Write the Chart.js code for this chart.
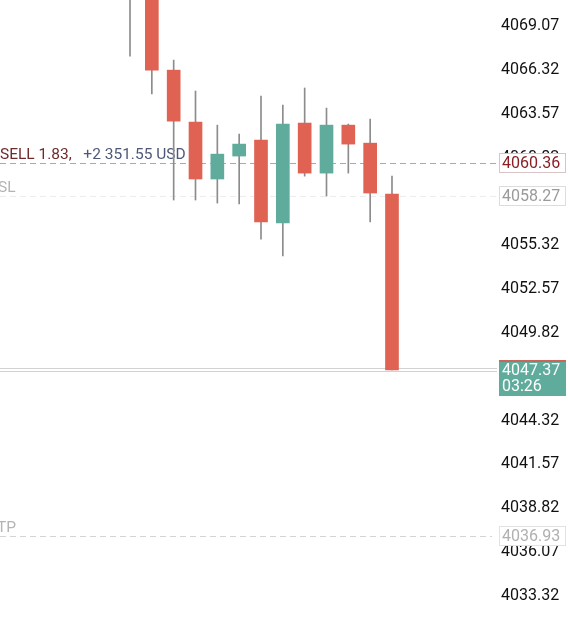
<!DOCTYPE html>
<html>
<head>
<meta charset="utf-8">
<script src="https://cdn.jsdelivr.net/npm/chart.js@4/dist/chart.umd.min.js"></script>
<style>
  html, body { margin: 0; padding: 0; background: #fff; }
  #wrap { width: 568px; height: 625px; position: relative; }
</style>
</head>
<body>
<div id="wrap"><canvas id="priceChart"></canvas></div>
<script>
// candles, oldest first (first one mostly above the visible range)
const opens  = [4071.40, 4073.00, 4066.18, 4062.92, 4059.35, 4060.79, 4061.79, 4056.59, 4062.86, 4059.72, 4062.73, 4061.60, 4058.41];
const highs  = [4075.00, 4073.60, 4066.81, 4064.87, 4062.73, 4062.17, 4064.55, 4063.99, 4065.06, 4063.80, 4062.80, 4063.11, 4059.53];
const lows   = [4067.06, 4064.68, 4058.03, 4058.03, 4057.84, 4057.78, 4055.58, 4054.52, 4059.53, 4058.28, 4059.72, 4056.65, 4047.37];
const closes = [4073.80, 4066.18, 4062.98, 4059.35, 4060.91, 4061.54, 4056.65, 4062.80, 4059.72, 4062.73, 4061.54, 4058.47, 4047.37];

const tickValues = [4033.32, 4036.07, 4038.82, 4041.57, 4044.32, 4047.07, 4049.82, 4052.57, 4055.32, 4058.07, 4060.82, 4063.57, 4066.32, 4069.07];

const positionPrice = 4060.36;
const positionText = 'SELL 1.83,';
const profitText = '+2 351.55 USD';
const slPrice = 4058.27;
const tpPrice = 4036.93;
const lastPrice = 4047.37;
const countdown = '03:26';

const UP = '#5fab9c';
const DOWN = '#e06252';
const FONT = 'Roboto, "Noto Sans", sans-serif';

const idx = opens.map((_, i) => i);
const bodyColors = opens.map((o, i) => closes[i] >= o ? UP : DOWN);

const overlay = {
  id: 'overlay',
  beforeDatasetsDraw(chart) {
    const { ctx, chartArea, scales: { y } } = chart;
    ctx.save();
    ctx.font = '15.5px ' + FONT;
    ctx.textBaseline = 'bottom';

    // position line
    let py = Math.round(y.getPixelForValue(positionPrice)) + 0.5;
    ctx.strokeStyle = '#a4aab8';
    ctx.lineWidth = 1;
    ctx.setLineDash([6, 4]);
    ctx.beginPath(); ctx.moveTo(chartArea.left, py); ctx.lineTo(chartArea.right, py); ctx.stroke();
    ctx.fillStyle = '#6e2b2b';
    ctx.fillText(positionText, 0, py - 1);
    const w = ctx.measureText(positionText + '   ').width;
    ctx.fillStyle = '#4d5877';
    ctx.fillText(profitText, w, py - 1);

    // SL
    py = Math.round(y.getPixelForValue(slPrice)) + 0.5;
    ctx.strokeStyle = '#ececec';
    ctx.beginPath(); ctx.moveTo(chartArea.left, py); ctx.lineTo(chartArea.right, py); ctx.stroke();
    ctx.fillStyle = '#b4b4b4';
    ctx.fillText('SL', -2, py - 1);

    // TP
    py = Math.round(y.getPixelForValue(tpPrice)) + 0.5;
    ctx.strokeStyle = '#d4d4d4';
    ctx.beginPath(); ctx.moveTo(chartArea.left, py); ctx.lineTo(chartArea.right - 5, py); ctx.stroke();
    ctx.fillStyle = '#b4b4b4';
    ctx.fillText('TP', -3, py - 1);

    // last price
    ctx.setLineDash([]);
    py = Math.round(y.getPixelForValue(lastPrice));
    ctx.strokeStyle = '#d2d2d2';
    ctx.beginPath(); ctx.moveTo(chartArea.left, py - 1.5); ctx.lineTo(chartArea.right, py - 1.5); ctx.stroke();
    ctx.beginPath(); ctx.moveTo(chartArea.left, py + 1.5); ctx.lineTo(chartArea.right, py + 1.5); ctx.stroke();
    ctx.restore();
  },
  afterDraw(chart) {
    const { ctx, scales: { y } } = chart;
    const bx = 499, bw = 67;
    ctx.save();
    ctx.font = '16px ' + FONT;
    ctx.textBaseline = 'middle';
    ctx.lineWidth = 1;

    function box(price, border, color) {
      const py = Math.round(y.getPixelForValue(price));
      ctx.fillStyle = '#fff';
      ctx.fillRect(bx, py - 10, bw, 20);
      ctx.strokeStyle = border;
      ctx.strokeRect(bx + 0.5, py - 9.5, bw - 1, 19);
      ctx.fillStyle = color;
      ctx.fillText(price.toFixed(2), bx + 3, py + 1);
    }
    box(positionPrice, '#d8c4c4', '#8a1f24');
    box(slPrice, '#dcdcdc', '#9a9a9a');
    box(tpPrice, '#e2e2e2', '#b0b0b0');

    // last price box with countdown
    const py = Math.round(y.getPixelForValue(lastPrice));
    ctx.fillStyle = UP;
    ctx.fillRect(bx, py - 10, bw, 36);
    ctx.fillStyle = '#c9655a';
    ctx.fillRect(bx, py - 10, bw, 2);
    ctx.fillStyle = '#fff';
    ctx.fillText(lastPrice.toFixed(2), bx + 3, py + 1);
    ctx.fillText(countdown, bx + 3, py + 17);
    ctx.restore();
  }
};

new Chart(document.getElementById('priceChart'), {
  type: 'bar',
  data: {
    datasets: [
      {
        label: 'body',
        data: idx.map(i => ({ x: i, y: [opens[i], closes[i]] })),
        backgroundColor: bodyColors,
        borderWidth: 0,
        barThickness: 13,
        grouped: false,
        order: 0
      },
      {
        label: 'wick',
        data: idx.map(i => ({ x: i, y: [lows[i], highs[i]] })),
        backgroundColor: '#8c8c8c',
        borderWidth: 0,
        barThickness: 1,
        grouped: false,
        order: 1
      }
    ]
  },
  options: {
    responsive: true,
    maintainAspectRatio: false,
    animation: false,
    layout: { padding: 0 },
    plugins: { legend: { display: false }, tooltip: { enabled: false } },
    scales: {
      x: {
        type: 'linear',
        display: false,
        offset: false,
        min: -5.955,
        max: 16.81
      },
      y: {
        position: 'right',
        min: 4031.37,
        max: 4070.58,
        grid: { display: false, drawTicks: false },
        border: { display: false },
        afterBuildTicks: s => { s.ticks = tickValues.map(v => ({ value: v })); },
        afterFit: s => { s.width = 71; s.paddingTop = 0; s.paddingBottom = 0; },
        ticks: {
          padding: 4,
          labelOffset: 2,
          color: '#111',
          font: { family: FONT, size: 16 },
          callback: v => Number(v).toFixed(2)
        }
      }
    }
  },
  plugins: [overlay]
});
</script>
</body>
</html>
